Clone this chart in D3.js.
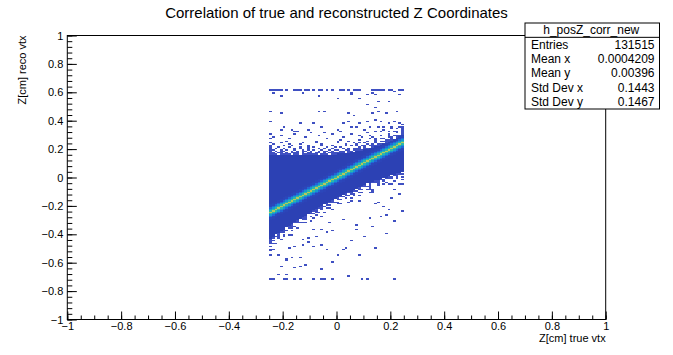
<!DOCTYPE html>
<html><head><meta charset="utf-8">
<script src="https://cdn.jsdelivr.net/npm/d3@7"></script>
<style>
body{margin:0;background:#fff}
svg{display:block}
text{font-family:"Liberation Sans",Arial,Helvetica,sans-serif;fill:#000}
</style>
</head><body>
<svg id="chart" width="673" height="355"></svg>
<script>
// ---------- axis / text data ----------
const chartTitle = "Correlation of true and reconstructed Z Coordinates";
const xTitle = "Z[cm] true vtx";
const yTitle = "Z[cm] reco vtx";
const xTicks = [-1,-0.8,-0.6,-0.4,-0.2,0,0.2,0.4,0.6,0.8,1];
const yTicks = [-1,-0.8,-0.6,-0.4,-0.2,0,0.2,0.4,0.6,0.8,1];
const xMinorStep = 0.05;
const yMinorStep = 0.04;

// ---------- stats box ----------
const statName = "h_posZ_corr_new";
const statLabels = ["Entries","Mean x","Mean y","Std Dev x","Std Dev y"];
const statValues = ["131515","0.0004209","0.00396","0.1443","0.1467"];

// ---------- histogram data ----------
const binW = 0.01, binH = 0.01;
const dataXRange = [-0.25, 0.25];
// correlation band: centre line end points
const bandX = [-0.25, 0.25];
const bandY = [-0.245, 0.245];
// counts per bin by row offset from the band centre
const coreProfile = [1000, 320, 100, 30, 8, 4];
// extent of the fully populated halo around the band
const haloKnotX  = [-0.25,-0.2,-0.15,-0.1,-0.05,0,0.05,0.1,0.15,0.2,0.25];
const haloTop    = [0.16,0.155,0.15,0.15,0.155,0.16,0.17,0.19,0.215,0.25,0.30];
const haloBottom = [-0.43,-0.37,-0.30,-0.245,-0.19,-0.14,-0.095,-0.05,-0.015,0.02,0.045];
const haloCount = 2;
// occupied bins just outside the halo (one char per x bin, '#' = occupied), row by row outward
const upperFringe = [
"###.####.##.######.###.#####.##.#####.####.###.###",
"##.##.#.###.#.##.##.#.###.##.#.###.#.##.#.####.#.#",
"#.#.##..#.#.##.#..#.##.#.#..##.#.#.#..##.#.#.##..#",
"##..#.#..#..#.#.#..#..#.#..#.#..#.#.#..#..#.#..#.#",
"#.#..#...#.#..#...#.#..#..#...#.#..#...#.#..#..#..",
"#..#...#...#..#.#....#..#...#....#..#..#....#.#..#",
"#....#..#.....#....#...#....#..#.....#...#.....#..",
".#.....#...#.......#.....#.......#....#.....#....#",
"#...#.......#....#.......#...#.......#.......#....",
"......#..........#........#.......#......#......#."
];
const lowerFringe = [
"##.###.####.##.#####.###.##.####.###.#####.##.###.",
"#.##.#.##.#.##.#.#.###.#.#.##.#.##.#.#.##.#.##.#.#",
"##.#..#.#..#.#..##.#..#.#.#..#.#..#.##..#.#..#.#..",
"#..#.#...#..#..#..#..#...#..#..#.#...#..#..#...#.#",
".#...#..#....#...#....#..#....#...#..#....#...#...",
"#...#.....#.....#...#.....#......#....#.....#....#",
"..#....#.......#.......#......#.......#......#....",
"#.......#..........#.........#........#.........#."
];
// clamped reco values (upper / lower rows)
const clampTopY = 0.615;
const clampTopX = [-0.248,-0.238,-0.228,-0.218,-0.208,-0.186,-0.16,-0.148,-0.138,-0.112,-0.103,-0.082,-0.068,-0.058,-0.037,-0.015,0.011,0.022,0.045,0.067,0.074,0.089,0.13,0.141,0.152,0.164,0.178,0.193,0.204,0.23,0.242];
const clampBottomY = -0.715;
const clampBottomX = [-0.245,-0.235,-0.2,-0.185,-0.16,-0.135,-0.085,-0.055,-0.045,-0.015,0.09,0.11,0.21];
// isolated entries
const scatterUpper = [
[-0.239,0.596],[-0.208,0.573],[-0.123,0.592],[-0.067,0.57],[0.004,0.556],[0.052,0.592],[0.059,0.585],[0.089,0.556],[0.115,0.585],[0.134,0.592],[0.145,0.585],[0.152,0.535],[0.193,0.535],[0.212,0.606],[0.238,0.585],
[-0.245,0.465],[-0.208,0.458],[-0.067,0.465],[-0.041,0.465],[0.041,0.458],[0.063,0.43],[0.138,0.458],[0.156,0.465],[0.182,0.458],[0.227,0.465],[0.145,0.493],[0.115,0.514],
[-0.245,0.394],[-0.134,0.387],[-0.086,0.387],[0.026,0.387],[0.045,0.394],[0.089,0.387],[0.115,0.394],[0.145,0.408],[0.164,0.394],[0.19,0.387],[0.219,0.394],[0.23,0.387],
[-0.208,0.338],[-0.197,0.352],[-0.164,0.338],[-0.152,0.324],[-0.141,0.324],[-0.108,0.338],[-0.097,0.317],[-0.052,0.352],[-0.041,0.317],[0.004,0.338],[0.015,0.324],[0.059,0.352],[0.078,0.359],[0.1,0.338],[0.126,0.359],[0.152,0.359],[0.175,0.352],[0.208,0.352],[0.238,0.359],
[-0.245,0.30],[-0.245,0.27],[-0.235,0.28],[-0.205,0.29],[-0.175,0.27],[-0.155,0.30],[-0.115,0.28],[-0.065,0.29],[-0.035,0.27],[-0.015,0.30],[0.025,0.28],[0.055,0.30],[0.085,0.29],[0.115,0.31],[0.145,0.32],[0.175,0.33],[0.205,0.34],[0.235,0.35],[0.245,0.34]
];
const scatterLower = [
[-0.233,-0.507],[-0.214,-0.542],[-0.19,-0.577],[-0.183,-0.589],[-0.165,-0.565],[-0.134,-0.565],[-0.208,-0.625],[-0.159,-0.636],[-0.134,-0.625],[-0.115,-0.613],[-0.19,-0.683],[-0.214,-0.683],[-0.239,-0.502],[-0.177,-0.495],[-0.159,-0.484],[-0.122,-0.472],[-0.103,-0.46],[-0.084,-0.484],[-0.059,-0.479],[-0.035,-0.507],[0.027,-0.507],[0.037,-0.491],[-0.109,-0.425],[-0.128,-0.437],[-0.078,-0.413],[-0.09,-0.366],[-0.053,-0.366],[-0.035,-0.385],[-0.016,-0.378],[-0.022,-0.319],[0.027,-0.296],[0.077,-0.331],[0.071,-0.366],[0.126,-0.284],[0.145,-0.19],[0.157,-0.178],[0.188,-0.261],[0.194,-0.225],[0.213,-0.085],[0.244,-0.049],[0.046,-0.695],[0.089,-0.167],[0.126,-0.108],[0.114,-0.085],[0.151,-0.037],
[0.2,-0.15],[0.23,-0.12],[0.175,-0.21],[0.24,-0.24],[0.16,-0.28],[0.215,-0.31],[0.135,-0.35],[0.1,-0.42],[0.185,-0.4],[0.05,-0.45],[0.08,-0.55],[-0.02,-0.6],[0.0,-0.55],[-0.06,-0.65],[0.14,-0.5],
[-0.248,-0.49],[-0.248,-0.52],[-0.248,-0.55]
];

// ---------- layout ----------
const W = 673, H = 355;
const frame = {x0: 67.3, x1: 605.7, y0: 35.5, y1: 319.5};
const svg = d3.select("#chart");
const xs = d3.scaleLinear().domain([-1, 1]).range([frame.x0, frame.x1]);
const ys = d3.scaleLinear().domain([-1, 1]).range([frame.y1, frame.y0]);

const bandScale = d3.scaleLinear().domain(bandX).range(bandY);
const topScale = d3.scaleLinear().domain(haloKnotX).range(haloTop);
const botScale = d3.scaleLinear().domain(haloKnotX).range(haloBottom);

// ---------- build bins ----------
const nCols = Math.round((dataXRange[1] - dataXRange[0]) / binW);
const cells = new Map();
function addCell(xi, yi, n) {
  const k = xi + "," + yi;
  if (!cells.has(k)) cells.set(k, {xi, yi, n});
}
for (let i = 0; i < nCols; i++) {
  const xc = dataXRange[0] + (i + 0.5) * binW;
  const coreRow = Math.floor(bandScale(xc) / binH + 1e-9);
  const hiRow = Math.floor(topScale(xc) / binH + 1e-9);
  const loRow = Math.floor(botScale(xc) / binH + 1e-9);
  const P = coreProfile.length;
  const r0 = Math.min(loRow, coreRow - P + 1), r1 = Math.max(hiRow, coreRow + P - 1);
  for (let r = r0; r <= r1; r++) {
    const off = Math.abs(r - coreRow);
    if (off < P) addCell(i, r, coreProfile[off]);
    else if (r >= loRow && r <= hiRow) addCell(i, r, haloCount);
  }
  upperFringe.forEach((s, k) => { if (s[i] === "#") addCell(i, hiRow + k + 1, 1); });
  lowerFringe.forEach((s, k) => { if (s[i] === "#") addCell(i, loRow - k - 1, 1); });
}
function colOf(x) { return Math.max(0, Math.min(nCols - 1, Math.floor((x - dataXRange[0]) / binW + 1e-9))); }
function rowOf(y) { return Math.floor(y / binH + 1e-9); }
clampTopX.forEach(x => addCell(colOf(x), rowOf(clampTopY), 1));
clampBottomX.forEach(x => addCell(colOf(x), rowOf(clampBottomY), 1));
scatterUpper.concat(scatterLower).forEach(([x, y]) => addCell(colOf(x), rowOf(y), 1));

// ---------- colour ----------
const color = d3.scaleLog()
  .domain([1, 2, 8, 30, 100, 320, 1000])
  .range(["#3f50c2","#2c41b4","#2b47bb","#2266d6","#1597d0","#2eb8a6","#b8c65c"])
  .clamp(true);

// ---------- draw cells ----------
const cellData = Array.from(cells.values());
svg.append("g").attr("shape-rendering", "crispEdges")
  .selectAll("rect").data(cellData).join("rect")
  .attr("x", d => xs(dataXRange[0] + d.xi * binW))
  .attr("width", d => xs(dataXRange[0] + (d.xi + 1) * binW) - xs(dataXRange[0] + d.xi * binW))
  .attr("y", d => ys((d.yi + 1) * binH))
  .attr("height", d => ys(d.yi * binH) - ys((d.yi + 1) * binH))
  .attr("fill", d => color(d.n));

// ---------- frame ----------
svg.append("rect")
  .attr("x", frame.x0).attr("y", frame.y0)
  .attr("width", frame.x1 - frame.x0).attr("height", frame.y1 - frame.y0)
  .attr("fill", "none").attr("stroke", "#000").attr("stroke-width", 1);

// ---------- axes ----------
const fmt = d3.format("~g");
const xMinor = d3.range(Math.round(2 / xMinorStep) + 1).map(i => -1 + i * xMinorStep);
const yMinor = d3.range(Math.round(2 / yMinorStep) + 1).map(i => -1 + i * yMinorStep);

function styleAxis(g) {
  g.select(".domain").remove();
  g.attr("font-family", null).attr("font-size", null);
  g.selectAll("line").attr("stroke", "#000");
  g.selectAll("text").style("font-size", "11px").attr("fill", "#000");
}
svg.append("g").attr("transform", `translate(0,${frame.y1})`)
  .call(d3.axisBottom(xs).tickValues(xMinor).tickSize(-4).tickFormat(""))
  .call(styleAxis);
svg.append("g").attr("transform", `translate(0,${frame.y1})`)
  .call(d3.axisBottom(xs).tickValues(xTicks).tickSize(-8).tickPadding(3).tickFormat(fmt))
  .call(styleAxis);
svg.append("g").attr("transform", `translate(${frame.x0},0)`)
  .call(d3.axisLeft(ys).tickValues(yMinor).tickSize(-5).tickFormat(""))
  .call(styleAxis);
svg.append("g").attr("transform", `translate(${frame.x0},0)`)
  .call(d3.axisLeft(ys).tickValues(yTicks).tickSize(-9.5).tickPadding(4).tickFormat(fmt))
  .call(styleAxis);

// ---------- titles ----------
svg.append("text").attr("x", W / 2).attr("y", 18).attr("text-anchor", "middle")
  .style("font-size", "15px").text(chartTitle);
svg.append("text").attr("x", frame.x1).attr("y", 342).attr("text-anchor", "end")
  .style("font-size", "11px").text(xTitle);
svg.append("text").attr("transform", `translate(25.5,${frame.y0}) rotate(-90)`)
  .attr("text-anchor", "end").style("font-size", "11px").text(yTitle);

// ---------- stats box ----------
const sb = {x: 525, y: 23, w: 134.5, h: 86};
const rowH = sb.h / (statLabels.length + 1);
const gs = svg.append("g");
gs.append("rect").attr("x", sb.x).attr("y", sb.y).attr("width", sb.w).attr("height", sb.h)
  .attr("fill", "#fff").attr("stroke", "#000").attr("stroke-width", 1);
gs.append("line").attr("x1", sb.x).attr("x2", sb.x + sb.w)
  .attr("y1", sb.y + rowH).attr("y2", sb.y + rowH).attr("stroke", "#000");
gs.append("text").attr("x", sb.x + sb.w / 2 - 1).attr("y", sb.y + rowH / 2 + 4.3)
  .attr("text-anchor", "middle").style("font-size", "12px").text(statName);
statLabels.forEach((lab, i) => {
  const cy = sb.y + rowH * (i + 1.5) + 4.3;
  gs.append("text").attr("x", sb.x + 6).attr("y", cy).style("font-size", "12px").text(lab);
  gs.append("text").attr("x", sb.x + sb.w - 5).attr("y", cy).attr("text-anchor", "end")
    .style("font-size", "12px").text(statValues[i]);
});
</script>
</body></html>
